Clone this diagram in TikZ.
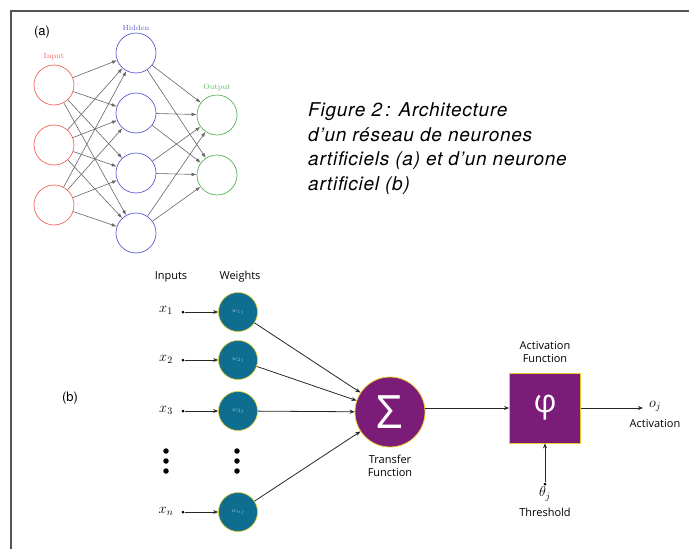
\documentclass[tikz,border=0pt]{standalone}
\usepackage{fontspec}
\setmainfont{Latin Modern Roman}
\newfontfamily\capfont{TeX Gyre Heros}
\newfontfamily\capfontsp[LetterSpace=4]{TeX Gyre Heros}
\newfontfamily\osfont{Open Sans}
\usetikzlibrary{arrows.meta}
\definecolor{inred}{HTML}{F0645A}
\definecolor{hidblue}{HTML}{5A5AD2}
\definecolor{outgreen}{HTML}{55B45A}
\definecolor{teal1}{HTML}{0F6E90}
\definecolor{purp}{HTML}{7A1C78}
\definecolor{yell}{HTML}{E6CC2A}
\definecolor{framegray}{HTML}{555555}
\definecolor{wtext}{HTML}{8CC4DA}
\begin{document}
\begin{tikzpicture}[x=1pt,y=-1pt,
  incirc/.style={circle,draw=inred,line width=0.7pt,minimum size=40pt,inner sep=0pt},
  hidcirc/.style={circle,draw=hidblue,line width=0.7pt,minimum size=40pt,inner sep=0pt},
  outcirc/.style={circle,draw=outgreen,line width=0.7pt,minimum size=40pt,inner sep=0pt},
  aedge/.style={draw=black!60,line width=0.6pt,-{Latex[length=5pt,width=3.5pt]}},
  wcirc/.style={circle,fill=teal1,draw=yell,line width=0.6pt,minimum size=39pt,inner sep=0pt,font=\fontsize{6}{7}\selectfont,text=wtext},
  bedge/.style={draw=black!85,line width=0.8pt,-{Stealth[length=5pt,width=4pt]}},
  blab/.style={font=\osfont\fontsize{11}{13}\selectfont,align=center,inner sep=0pt},
  xlab/.style={font=\fontsize{14.4}{16}\selectfont,inner sep=0pt},
  caplab/.style={font=\capfontsp\itshape\fontsize{19}{22}\selectfont,anchor=base west,inner sep=0pt},
  bigdot/.style={circle,fill=black,minimum size=5.5pt,inner sep=0pt},
  smalldot/.style={circle,fill=black,minimum size=3pt,inner sep=0pt}
]
\useasboundingbox (0,0) rectangle (689,549);
% frame
\draw[framegray,line width=1.2pt] (689,11) -- (11,11) -- (11,549);
% (a)
\node[font=\capfont\fontsize{13}{15}\selectfont] (la) at (42,32) {(a)};
\node[incirc] (in1) at (54,85) {};
\node[incirc] (in2) at (54,145) {};
\node[incirc] (in3) at (54,205) {};
\node[hidcirc] (hid1) at (136,53) {};
\node[hidcirc] (hid2) at (136,113) {};
\node[hidcirc] (hid3) at (136,173) {};
\node[hidcirc] (hid4) at (136,233) {};
\node[outcirc] (out1) at (217,115) {};
\node[outcirc] (out2) at (217,175) {};
\node[text=inred,font=\fontsize{7.5}{9}\selectfont] (tin) at (54,57) {Input};
\node[text=hidblue,font=\fontsize{7.5}{9}\selectfont] (thid) at (136,28) {Hidden};
\node[text=outgreen,font=\fontsize{7.5}{9}\selectfont] (tout) at (217,88) {Output};
\foreach \i in {1,2,3}{\foreach \j in {1,2,3,4}{\draw[aedge] (in\i) -- (hid\j);}}
\foreach \j in {1,2,3,4}{\foreach \k in {1,2}{\draw[aedge] (hid\j) -- (out\k);}}
% caption
\node[caplab] (cap1) at (308,116.7) {Figure 2\,: Architecture};
\node[caplab] (cap2) at (308,141.3) {d’un réseau de neurones};
\node[caplab] (cap3) at (308,165.9) {artificiels (a) et d’un neurone};
\node[caplab] (cap4) at (308,190.5) {artificiel (b)};
% (b)
\node[font=\capfont\fontsize{13}{15}\selectfont] (lb) at (70,398) {(b)};
\node[blab] (tinputs) at (171,277) {Inputs};
\node[blab] (tweights) at (240,277) {Weights};
\node[wcirc] (w1) at (238,312) {$w_{1j}$};
\node[wcirc] (w2) at (238,360) {$w_{2j}$};
\node[wcirc] (w3) at (238,411) {$w_{3j}$};
\node[wcirc] (wn) at (238,512) {$w_{nj}$};
\node[xlab] (x1) at (166,310) {$x_1$};
\node[xlab] (x2) at (166,359) {$x_2$};
\node[xlab] (x3) at (166,410) {$x_3$};
\node[xlab] (xn) at (166,511) {$x_n$};
\node[smalldot] (d1) at (183,312) {};
\node[smalldot] (d2) at (183,360) {};
\node[smalldot] (d3) at (183,411) {};
\node[smalldot] (dn) at (183,512) {};
\draw[bedge] (d1) -- (w1);
\draw[bedge] (d2) -- (w2);
\draw[bedge] (d3) -- (w3);
\draw[bedge] (dn) -- (wn);
\node[bigdot] (e1) at (166,451) {};
\node[bigdot] (e2) at (166,461) {};
\node[bigdot] (e3) at (166,471) {};
\node[bigdot] (f1) at (237,451) {};
\node[bigdot] (f2) at (237,461) {};
\node[bigdot] (f3) at (237,471) {};
\node[circle,fill=purp,draw=yell,line width=0.8pt,minimum size=70pt,inner sep=0pt,text=white,font=\osfont\fontsize{46}{46}\selectfont] (sig) at (390,412) {Σ};
\foreach \w in {w1,w2,w3,wn}{\draw[bedge] (\w) -- (sig);}
\node[blab] (ttrans) at (390,466) {Transfer\\Function};
\node[rectangle,fill=purp,draw=yell,line width=0.8pt,minimum width=71pt,minimum height=70pt,inner sep=0pt,text=white,font=\osfont\fontsize{32}{32}\selectfont] (phi) at (545,408) {φ};
\node[blab] (tact) at (545,352) {Activation\\Function};
\draw[bedge] (sig.east |- phi) -- (phi);
\coordinate (oend) at (643,408);
\draw[bedge] (phi) -- (oend);
\node[xlab,anchor=west] (oj) at (649,406) {$o_j$};
\node[blab] (tactv) at (655,424) {Activation};
\node[smalldot] (thd) at (545,484) {};
\draw[bedge] (thd) -- (phi);
\node[xlab] (thj) at (545,494) {$\theta_j$};
\node[blab] (tthr) at (545,512) {Threshold};
\end{tikzpicture}
\end{document}
